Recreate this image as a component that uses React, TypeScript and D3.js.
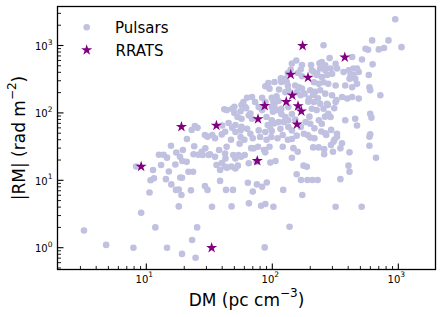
import * as React from 'react';
import * as d3 from 'd3';

// [DM (pc cm^-3), |RM| (rad m^-2)]
const pulsars: [number, number][] = [
  [3.2, 1.8], [4.8, 1.1], [7.9, 1.0], [8.3, 16], [9.1, 3.3], [10.6, 6.6], [10.8, 10], [11.5, 10.7],
  [11.3, 14.2], [11.8, 2.0], [12.6, 24], [13.7, 24], [14.6, 21.7], [13.1, 16.9], [14.3, 10.4], [14.6, 1.0],
  [15.1, 13.5], [15.7, 32.6], [15.8, 8.7], [17.0, 17.2], [17.3, 25.8], [18.5, 22.4], [19.5, 28.2], [18.6, 11],
  [17.2, 7.2], [18.1, 7.3], [19.0, 6.05], [18.1, 4.1], [19.2, 0.81], [19.3, 19.3], [20.9, 18.8], [21.0, 41],
  [19.2, 10.9], [21.6, 13.4], [23.5, 13.4], [22.6, 7.1], [23.1, 1.3], [24.6, 0.71], [25.3, 2.0], [24.0, 32],
  [23.7, 24.3], [25.9, 24], [27.5, 26.5], [28.0, 23.7], [29.4, 29.8], [24.3, 64], [25.5, 60], [22.9, 55.8],
  [29.2, 47], [30.6, 44.4], [33.4, 47], [35.1, 42], [39.7, 48], [42.2, 52.5], [41.6, 113], [43.6, 110],
  [32.0, 24.3], [35.1, 22.4], [37.8, 28.2], [42.2, 25], [43.4, 31.5], [36.1, 16.9], [39.7, 18], [42.2, 16],
  [38.5, 14.2], [43.6, 15.4], [38.5, 9.8], [42.9, 7.2], [48.7, 7.2], [29.2, 8.2], [30.6, 7.2], [33.2, 4.06],
  [47.5, 4.1], [31.2, 23.7], [42.5, 21], [50.9, 21], [53.9, 23.7], [56.5, 22.4], [60.4, 23.7], [50.9, 15],
  [53.3, 16.5], [47.3, 16], [71.2, 29.8], [86, 28.2], [88, 26], [65, 17.9], [75, 18.9], [96.5, 18.3],
  [106, 19.3], [143, 21.6], [177, 16.5], [156, 12.3], [64, 9.2], [75.5, 8.7], [83, 8.0], [90.4, 9.3],
  [70, 6.8], [122, 7.2], [173, 6.05], [65.2, 4.55], [81.5, 4.2], [88, 4.45], [102, 4.06], [137, 2.05],
  [87, 1.01],
  [200, 43], [211, 30.8], [233, 30.8], [258, 29], [258, 24.3], [292, 33.4], [306, 37.4], [326, 44.3],
  [347, 29.8], [357, 35.4], [410, 26], [590, 44.3], [590, 32.6], [665, 21.6], [188, 15.9], [402, 16.5],
  [410, 13.4], [169, 10.1], [190, 10.1], [208, 10.1], [229, 10.1], [347, 10.4], [318, 4.06], [512, 4.06],
  [945, 2450], [620, 1190], [835, 1190], [1060, 945], [549, 895], [575, 865], [700, 875], [770, 920],
  [255, 1010], [430, 675], [515, 620], [625, 525], [285, 650], [247, 570], [263, 510], [318, 535],
  [327, 455], [240, 455], [263, 430], [290, 455], [405, 430], [440, 455], [470, 455], [485, 405],
  [418, 365], [440, 365], [410, 320], [455, 320], [583, 365], [368, 405], [225, 365], [247, 340],
  [272, 365], [298, 380], [206, 430], [214, 285], [234, 270], [255, 285], [278, 270], [318, 255],
  [379, 255], [430, 240], [470, 270], [590, 240], [598, 217], [200, 217], [218, 205], [240, 217],
  [263, 193], [298, 183], [358, 172], [393, 163], [430, 172], [485, 163], [720, 183], [318, 145],
  [195, 163], [214, 145], [240, 137], [272, 137], [206, 115], [225, 110], [255, 115], [278, 97],
  [290, 87], [379, 78], [455, 82], [598, 97], [612, 85], [200, 69], [234, 78], [247, 69],
  [470, 65], [263, 50], [326, 49], [598, 48],
  [155, 600], [143, 540], [168, 440], [140, 440], [126, 320], [118, 287], [172, 350], [172, 515],
  [203, 515], [237, 545], [133, 390], [159, 390], [211, 410], [227, 390], [117, 325], [130, 290],
  [93, 278], [104, 287], [113, 222], [88, 248], [95, 229], [152, 255], [163, 240], [172, 229],
  [133, 255], [156, 203], [168, 183], [180, 193], [127, 203], [134, 217], [83, 168], [88, 145],
  [99, 168], [102, 145], [108, 176], [112, 150], [63, 168], [69, 172], [73, 145], [59, 145],
  [61, 122], [78, 122], [83, 110], [99, 122], [108, 110], [118, 115], [134, 122], [118, 96],
  [127, 87], [143, 96], [152, 80], [48, 115], [50, 100], [56, 106], [53, 87], [57, 82],
  [65, 92], [69, 82], [90, 87], [99, 78], [112, 73], [123, 73], [134, 78], [96, 62],
  [99, 54], [116, 58], [134, 62], [143, 55], [168, 62], [184, 73], [40, 65], [45, 71],
  [48, 60], [51, 52], [56, 55], [63, 58], [67, 49], [78, 55], [88, 52], [156, 46], [178, 49],
  [211, 184], [230, 165], [323, 155], [104, 131], [50, 123], [57, 131], [62, 117], [193, 147],
  [276, 131], [310, 117], [101, 104], [67, 98], [197, 88], [262, 88], [51, 66], [57, 62],
  [92, 66], [104, 70], [216, 59], [245, 53], [293, 56], [70, 42], [80, 44], [90, 40],
  [98, 44], [110, 42], [121, 47], [133, 40], [191, 47], [216, 42], [268, 47], [311, 40],
  [47, 40], [55, 35], [60, 40], [68, 30], [77, 31.5], [87, 28], [95, 31.5], [121, 31.5],
  [147, 30], [159, 26.5], [303, 26.5], [49, 23.7], [56, 44], [143, 41],
];

const rrats: [number, number][] = [
  [9.1, 16], [19, 62], [36, 65], [33, 1.0], [174, 990], [140, 370], [192, 335], [144, 183],
  [129, 146], [87, 127], [160, 126], [170, 106], [77, 81], [157, 68], [76, 19.4], [376, 670],
];

const xMajorTicks = [10, 100, 1000];
const yMajorTicks = [1, 10, 100, 1000];

const W = 443;
const H = 317;
const left = 57.5, right = 435.5, top = 6.5, bottom = 269.5;
const font = 'DejaVu Sans';
const pulsarColor = '#c0c0e0';
const rratColor = '#800080';

const x = d3.scaleLog().domain([1.973, 1973]).range([left, right]);
const y = d3.scaleLog().domain([0.475, 3790]).range([bottom, top]);

const starPath = d3.symbol(d3.symbolStar, 38)() as string;

const exp = (v: number) => String(Math.round(Math.log10(v)));

export default function App() {
  const xMinor = x.ticks().filter((t) => !xMajorTicks.includes(t) && x(t) > left + 1 && x(t) < right - 1);
  const yMinor = y.ticks().filter((t) => !yMajorTicks.includes(t) && y(t) < bottom - 1 && y(t) > top + 1);

  return (
    <svg width={W} height={H} style={{ position: 'absolute', left: 0, top: 0, background: '#fff' }}
      fontFamily={font}>
      <rect width={W} height={H} fill="#fff" />

      {pulsars.map(([dm, rm], i) => (
        <circle key={'p' + i} cx={x(dm)} cy={y(rm)} r={3.3} fill={pulsarColor} />
      ))}
      {rrats.map(([dm, rm], i) => (
        <path key={'r' + i} d={starPath} transform={`translate(${x(dm)},${y(rm)})`} fill={rratColor} />
      ))}

      {/* ticks, pointing inward */}
      <g stroke="#000">
        {xMajorTicks.map((t) => (
          <line key={'xM' + t} x1={x(t)} x2={x(t)} y1={bottom} y2={bottom - 6} strokeWidth={1.1} />
        ))}
        {xMinor.map((t) => (
          <line key={'xm' + t} x1={x(t)} x2={x(t)} y1={bottom} y2={bottom - 3.5} strokeWidth={0.9} />
        ))}
        {yMajorTicks.map((t) => (
          <line key={'yM' + t} x1={left} x2={left + 6} y1={y(t)} y2={y(t)} strokeWidth={1.1} />
        ))}
        {yMinor.map((t) => (
          <line key={'ym' + t} x1={left} x2={left + 3.5} y1={y(t)} y2={y(t)} strokeWidth={0.9} />
        ))}
      </g>

      {xMajorTicks.map((t) => (
        <text key={'xl' + t} x={x(t) - 2} y={282.5} textAnchor="middle" fontSize={10} fill="#000">
          10<tspan dy={-5.5} fontSize={7.5}>{exp(t)}</tspan>
        </text>
      ))}
      {yMajorTicks.map((t) => (
        <text key={'yl' + t} x={52.5} y={y(t) + 4.5} textAnchor="end" fontSize={10} fill="#000">
          10<tspan dy={-5.5} fontSize={7.5}>{exp(t)}</tspan>
        </text>
      ))}

      <rect x={left} y={top} width={right - left} height={bottom - top} fill="none" stroke="#000" strokeWidth={1.3} />

      {/* axis labels */}
      <text x={(left + right) / 2} y={305.5} textAnchor="middle" fontSize={17} fill="#000">
        DM (pc cm<tspan dy={-9} fontSize={12}>−3</tspan><tspan dy={9}>)</tspan>
      </text>
      <text transform={`translate(24.5,${(top + bottom) / 2}) rotate(-90)`} textAnchor="middle" fontSize={17} fill="#000">
        |RM| (rad m<tspan dy={-9} fontSize={12}>−2</tspan><tspan dy={9}>)</tspan>
      </text>

      {/* legend */}
      <circle cx={86.7} cy={27.3} r={3.3} fill={pulsarColor} />
      <text x={115} y={33} fontSize={15} fill="#000">Pulsars</text>
      <path d={starPath} transform="translate(86.7,50)" fill={rratColor} />
      <text x={115.5} y={56} fontSize={15} fill="#000">RRATS</text>
    </svg>
  );
}
